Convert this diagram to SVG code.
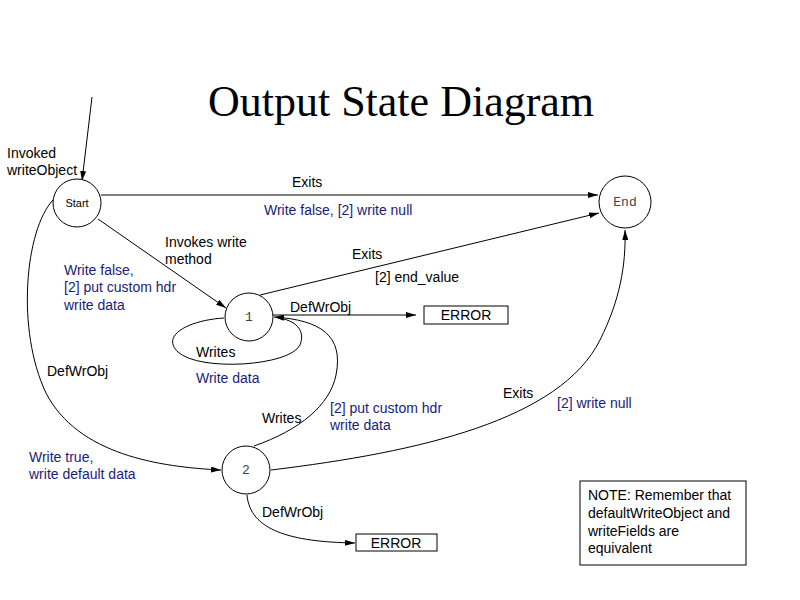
<svg xmlns="http://www.w3.org/2000/svg" width="800" height="600" viewBox="0 0 800 600">
<defs>
<marker id="ah" viewBox="0 0 10 6" refX="10" refY="3" markerWidth="10" markerHeight="6" markerUnits="userSpaceOnUse" orient="auto">
<path d="M0,0 L10,3 L0,6 z" fill="#000"/>
</marker>
</defs>
<style>
.st{fill:#fff;stroke:#000;stroke-width:1}
.ln{fill:none;stroke:#000;stroke-width:1;marker-end:url(#ah)}
.lnn{fill:none;stroke:#000;stroke-width:1}
.t{font-family:"Liberation Sans",Arial,sans-serif;font-size:14px;fill:#000}
.b{font-family:"Liberation Sans",Arial,sans-serif;font-size:14px;fill:#1c1c78}
.m{font-family:"Liberation Mono","DejaVu Sans Mono",monospace;font-size:13px;fill:#444}
.box{fill:#fff;stroke:#000;stroke-width:1}
</style>
<rect width="800" height="600" fill="#fff"/>
<text x="401" y="116" text-anchor="middle" font-family="'Liberation Serif','Times New Roman',serif" font-size="44" fill="#000">Output State Diagram</text>

<g id="connectors">
<path class="ln" d="M92,97 L82,181"/>
<path class="ln" d="M101,195 L598,195"/>
<path class="ln" d="M98,219 L226,308"/>
<path class="ln" d="M260,295 L599,213"/>
<path class="ln" d="M273,315 L416,315"/>
<path class="lnn" d="M224,318 C190,320 160,335 178,352 C200,372 290,366 300,345 C306,330 295,320 278,318"/>
<path class="ln" d="M254,446 C300,430 330,405 336,375 C344,335 320,320 274,317"/>
<path class="ln" d="M53,200 C25,230 16,330 46,393 C78,455 160,467 221,470"/>
<path class="ln" d="M271,470 C420,452 560,420 600,340 C620,300 626,265 625,230"/>
<path class="ln" d="M247,495 C250,530 290,542 355,543"/>
</g>

<g id="start">
<circle class="st" cx="77" cy="203" r="24"/>
<text x="77" y="207" text-anchor="middle" font-family="'Liberation Sans',Arial,sans-serif" font-size="11" fill="#000">Start</text>
</g>
<g id="end">
<circle class="st" cx="625" cy="202" r="26"/>
<text x="625" y="206" text-anchor="middle" class="m">End</text>
</g>
<g id="state1">
<circle class="st" cx="249" cy="317" r="24"/>
<text x="249" y="321" text-anchor="middle" class="m">1</text>
</g>
<g id="state2">
<circle class="st" cx="246" cy="470" r="24"/>
<text x="246" y="474" text-anchor="middle" class="m">2</text>
</g>
<g id="error1">
<rect class="box" x="424" y="306" width="84" height="18"/>
<text x="466" y="320" text-anchor="middle" class="t">ERROR</text>
</g>
<g id="error2">
<rect class="box" x="356" y="534" width="81" height="17"/>
<text x="396" y="548" text-anchor="middle" class="t">ERROR</text>
</g>
<g id="note">
<rect class="box" x="580" y="481" width="166" height="84"/>
<text x="588" y="500" class="t">NOTE: Remember that</text>
<text x="588" y="518" class="t">defaultWriteObject and</text>
<text x="588" y="536" class="t">writeFields are</text>
<text x="588" y="553" class="t">equivalent</text>
</g>

<g id="labels">
<text x="7" y="158" class="t">Invoked</text>
<text x="7" y="175" class="t">writeObject</text>
<text x="292" y="187" class="t">Exits</text>
<text x="264" y="215" class="b">Write false, [2] write null</text>
<text x="165" y="247" class="t">Invokes write</text>
<text x="165" y="264" class="t">method</text>
<text x="64" y="275" class="b">Write false,</text>
<text x="64" y="292" class="b">[2] put custom hdr</text>
<text x="64" y="310" class="b">write data</text>
<text x="352" y="259" class="t">Exits</text>
<text x="375" y="282" class="t">[2] end_value</text>
<text x="290" y="312" class="t">DefWrObj</text>
<text x="196" y="357" class="t">Writes</text>
<text x="196" y="383" class="b">Write data</text>
<text x="47" y="376" class="t">DefWrObj</text>
<text x="262" y="423" class="t">Writes</text>
<text x="330" y="413" class="b">[2] put custom hdr</text>
<text x="330" y="430" class="b">write data</text>
<text x="503" y="398" class="t">Exits</text>
<text x="557" y="408" class="b">[2] write null</text>
<text x="29" y="462" class="b">Write true,</text>
<text x="29" y="479" class="b">write default data</text>
<text x="262" y="517" class="t">DefWrObj</text>
</g>
</svg>
